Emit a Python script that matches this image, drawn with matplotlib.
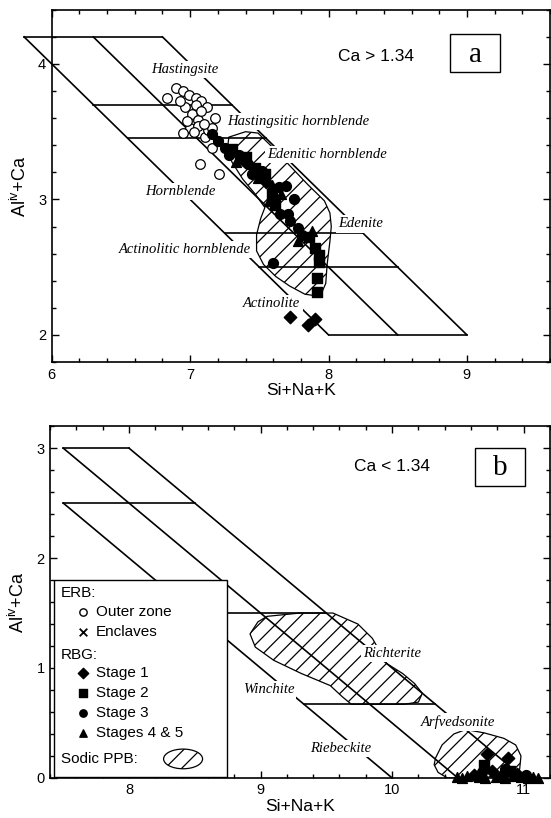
import matplotlib
matplotlib.use('Agg')
import matplotlib.pyplot as plt
from matplotlib.patches import Polygon, Rectangle, Ellipse
from matplotlib.ticker import MultipleLocator

plt.rcParams['font.family'] = ['Liberation Sans', 'DejaVu Sans']
plt.rcParams['mathtext.default'] = 'regular'
plt.rcParams['hatch.linewidth'] = 0.9

# ---- panel a (Ca > 1.34): field boundaries, (x0, x1), (y0, y1)
a_lines = [
    ((5.8, 8.0), (4.2, 2.0)),
    ((6.3, 8.5), (4.2, 2.0)),
    ((6.8, 9.0), (4.2, 2.0)),
    ((5.8, 6.8), (4.2, 4.2)),
    ((8.0, 9.0), (2.0, 2.0)),
    ((6.3, 7.3), (3.7, 3.7)),
    ((6.55, 7.55), (3.45, 3.45)),
    ((7.25, 8.25), (2.75, 2.75)),
    ((7.5, 8.5), (2.5, 2.5)),
]
a_names = ['Hastingsite', 'Hastingsitic hornblende', 'Edenitic hornblende', 'Edenite',
           'Hornblende', 'Actinolitic hornblende', 'Actinolite']
a_name_x = [6.96, 7.78, 7.99, 8.23, 6.93, 6.96, 7.59]
a_name_y = [3.96, 3.575, 3.33, 2.82, 3.06, 2.63, 2.23]

a_ppb_x = [7.28, 7.40, 7.49, 7.60, 7.71, 7.85, 7.97, 8.01, 8.02, 8.01, 7.99, 7.98, 7.95,
           7.90, 7.83, 7.72, 7.62, 7.53, 7.48, 7.48, 7.51, 7.54, 7.47, 7.38, 7.30, 7.27]
a_ppb_y = [3.46, 3.50, 3.49, 3.38, 3.26, 3.11, 2.99, 2.90, 2.80, 2.69, 2.52, 2.38, 2.31,
           2.29, 2.30, 2.36, 2.43, 2.52, 2.62, 2.74, 2.86, 2.94, 3.04, 3.15, 3.28, 3.38]

a_outer_x = [6.83, 6.90, 6.95, 6.99, 7.04, 7.08, 7.12, 6.96, 7.01, 7.06, 7.18, 7.00, 6.95, 7.11,
             7.16, 7.07, 7.21, 7.04, 7.08, 7.06, 7.13, 6.93, 7.16, 7.20, 6.98, 7.03, 7.10]
a_outer_y = [3.75, 3.82, 3.80, 3.77, 3.75, 3.73, 3.68, 3.68, 3.63, 3.59, 3.60, 3.53, 3.49, 3.46,
             3.38, 3.26, 3.19, 3.70, 3.65, 3.54, 3.51, 3.73, 3.53, 3.43, 3.58, 3.50, 3.56]
a_st1_x = [7.72, 7.85, 7.90, 7.38, 7.55]
a_st1_y = [2.13, 2.07, 2.12, 3.29, 3.13]
a_st2_x = [7.30, 7.40, 7.47, 7.54, 7.59, 7.61, 7.86, 7.90, 7.93, 7.93, 7.92, 7.92]
a_st2_y = [3.37, 3.31, 3.23, 3.19, 3.04, 2.96, 2.72, 2.64, 2.59, 2.54, 2.42, 2.32]
a_st3_x = [7.16, 7.20, 7.25, 7.28, 7.35, 7.42, 7.45, 7.52, 7.64, 7.69, 7.65, 7.72, 7.78, 7.81,
           7.75, 7.60, 7.71]
a_st3_y = [3.48, 3.43, 3.38, 3.33, 3.33, 3.26, 3.19, 3.21, 3.09, 3.10, 2.89, 2.84, 2.79, 2.74,
           3.00, 2.53, 2.89]
a_st45_x = [7.33, 7.49, 7.59, 7.57, 7.66, 7.88, 7.78]
a_st45_y = [3.28, 3.16, 3.11, 2.99, 3.04, 2.77, 2.69]

# ---- panel b (Ca < 1.34)
b_lines = [
    ((7.5, 10.0), (2.5, 0.0)),
    ((7.5, 10.5), (3.0, 0.0)),
    ((8.0, 11.0), (3.0, 0.0)),
    ((7.5, 8.0), (3.0, 3.0)),
    ((7.5, 8.5), (2.5, 2.5)),
    ((8.5, 9.5), (1.5, 1.5)),
    ((9.33, 10.33), (0.67, 0.67)),
]
b_names = ['Richterite', 'Winchite', 'Riebeckite', 'Arfvedsonite']
b_name_x = [10.0, 9.06, 9.61, 10.5]
b_name_y = [1.13, 0.80, 0.27, 0.51]

b_ppb1_x = [8.92, 8.98, 9.05, 9.30, 9.55, 9.74, 9.85, 9.96, 10.08, 10.17, 10.23, 10.20, 10.09,
            9.85, 9.69, 9.62, 9.53, 9.31, 9.10, 8.96]
b_ppb1_y = [1.31, 1.42, 1.47, 1.50, 1.50, 1.40, 1.27, 1.04, 0.95, 0.86, 0.77, 0.69, 0.67,
            0.67, 0.67, 0.74, 0.84, 0.95, 1.07, 1.19]
b_ppb2_x = [10.33, 10.38, 10.47, 10.56, 10.70, 10.85, 10.94, 10.98, 10.97, 10.93, 10.60,
            10.42, 10.35, 10.32]
b_ppb2_y = [0.18, 0.30, 0.40, 0.44, 0.41, 0.36, 0.30, 0.20, 0.08, 0.02, 0.0, 0.0, 0.05, 0.12]

b_st1_x = [10.72, 10.88, 10.76, 10.95, 10.83, 10.62]
b_st1_y = [0.22, 0.18, 0.06, 0.04, 0.02, 0.03]
b_st2_x = [10.70, 10.90]
b_st2_y = [0.12, 0.06]
b_st3_x = [10.68, 10.86, 11.02]
b_st3_y = [0.05, 0.08, 0.03]
b_st45_x = [10.49, 10.53, 10.57, 10.66, 10.71, 10.79, 10.86, 10.92, 10.98, 11.03, 11.07, 11.11]
b_st45_y = [0.01, 0.0, 0.02, 0.01, 0.0, 0.01, 0.0, 0.02, 0.01, 0.0, 0.01, 0.0]


def style_axes(ax, xlim, ylim):
    ax.set_xlim(*xlim)
    ax.set_ylim(*ylim)
    ax.xaxis.set_major_locator(MultipleLocator(1))
    ax.xaxis.set_minor_locator(MultipleLocator(0.2))
    ax.yaxis.set_major_locator(MultipleLocator(1))
    ax.yaxis.set_minor_locator(MultipleLocator(0.2))
    ax.tick_params(which='both', direction='in', top=True, right=True, labelsize=10.5, pad=4)
    ax.tick_params(which='major', length=5, width=1)
    ax.tick_params(which='minor', length=3, width=1)
    for s in ax.spines.values():
        s.set_linewidth(1.2)
    ax.set_xlabel('Si+Na+K', fontsize=12.5, labelpad=1)
    ax.set_ylabel('Al$^{iv}$+Ca', fontsize=13, labelpad=6)


def draw_fields(ax, lines, names, nx, ny, blobs):
    for xs, ys in lines:
        ax.plot(xs, ys, color='black', lw=1.2, clip_on=False, zorder=2)
    for bx, by in blobs:
        ax.add_patch(Polygon(list(zip(bx, by)), closed=True, facecolor='none',
                             edgecolor='black', lw=0.9, hatch='//', zorder=1))
    for name, x, y in zip(names, nx, ny):
        ax.text(x, y, name, ha='center', va='center', fontsize=10.5, style='italic',
                family='Liberation Serif', zorder=4,
                bbox=dict(boxstyle='square,pad=0.15', fc='white', ec='none'))


def draw_points(ax, outer, st1, st2, st3, st45):
    if outer:
        ax.scatter(*outer, s=48, marker='o', facecolor='white', edgecolor='black',
                   lw=0.9, zorder=5, clip_on=False)
    ax.scatter(*st1, s=40, marker='D', color='black', zorder=6, clip_on=False)
    ax.scatter(*st2, s=48, marker='s', color='black', zorder=6, clip_on=False)
    ax.scatter(*st3, s=50, marker='o', color='black', zorder=6, clip_on=False)
    ax.scatter(*st45, s=50, marker='^', color='black', zorder=6, clip_on=False)


def label_box(ax, text, note, box_x, box_y, note_x, note_y):
    ax.add_patch(Rectangle((box_x, box_y), 0.1, 0.108, transform=ax.transAxes,
                           facecolor='white', edgecolor='black', lw=1.0, zorder=7))
    ax.text(box_x + 0.05, box_y + 0.05, text, transform=ax.transAxes, ha='center',
            va='center', fontsize=21, family='Liberation Serif', zorder=8)
    ax.text(note_x, note_y, note, transform=ax.transAxes, ha='center', va='center',
            fontsize=12.5, zorder=8)


fig = plt.figure(figsize=(5.51, 8.18), dpi=100)
ax_a = fig.add_axes([0.094, 0.5575, 0.904, 0.4305])
ax_b = fig.add_axes([0.091, 0.049, 0.907, 0.430])

# panel a
style_axes(ax_a, (6, 9.6), (1.8, 4.4))
draw_fields(ax_a, a_lines, a_names, a_name_x, a_name_y, [(a_ppb_x, a_ppb_y)])
draw_points(ax_a, (a_outer_x, a_outer_y), (a_st1_x, a_st1_y), (a_st2_x, a_st2_y),
            (a_st3_x, a_st3_y), (a_st45_x, a_st45_y))
label_box(ax_a, 'a', 'Ca > 1.34', 0.80, 0.823, 0.65, 0.868)

# panel b
style_axes(ax_b, (7.4, 11.2), (0, 3.2))
draw_fields(ax_b, b_lines, b_names, b_name_x, b_name_y,
            [(b_ppb1_x, b_ppb1_y), (b_ppb2_x, b_ppb2_y)])
draw_points(ax_b, None, (b_st1_x, b_st1_y), (b_st2_x, b_st2_y),
            (b_st3_x, b_st3_y), (b_st45_x, b_st45_y))
label_box(ax_b, 'b', 'Ca < 1.34', 0.85, 0.83, 0.685, 0.885)

# legend box in panel b
ax_b.add_patch(Rectangle((0.008, 0.004), 0.346, 0.558, transform=ax_b.transAxes,
                         facecolor='white', edgecolor='black', lw=1.0, zorder=9))
leg_fs = 11
hx, mx, tx = 0.022, 0.066, 0.092
ax_b.text(hx, 0.526, 'ERB:', transform=ax_b.transAxes, fontsize=leg_fs, va='center', zorder=10)
ax_b.text(hx, 0.349, 'RBG:', transform=ax_b.transAxes, fontsize=leg_fs, va='center', zorder=10)
leg_items = [('o', 'white', 'Outer zone', 0.472), ('x', 'black', 'Enclaves', 0.415),
             ('D', 'black', 'Stage 1', 0.298), ('s', 'black', 'Stage 2', 0.241),
             ('o', 'black', 'Stage 3', 0.185), ('^', 'black', 'Stages 4 & 5', 0.128)]
for m, fc, lab, yy in leg_items:
    if m == 'x':
        ax_b.scatter([mx], [yy], marker='x', s=30, color='black', lw=1.3,
                     transform=ax_b.transAxes, zorder=10, clip_on=False)
    else:
        ax_b.scatter([mx], [yy], marker=m, s=28, facecolor=fc, edgecolor='black',
                     lw=1.0, transform=ax_b.transAxes, zorder=10, clip_on=False)
    ax_b.text(tx, yy, lab, transform=ax_b.transAxes, fontsize=leg_fs, va='center', zorder=10)
ax_b.text(hx, 0.054, 'Sodic PPB:', transform=ax_b.transAxes, fontsize=leg_fs,
          va='center', zorder=10)
ax_b.add_patch(Ellipse((0.266, 0.054), 0.078, 0.056, transform=ax_b.transAxes,
                       facecolor='white', edgecolor='black', lw=0.9, hatch='//', zorder=10))

fig.savefig('out.png', dpi=100)
